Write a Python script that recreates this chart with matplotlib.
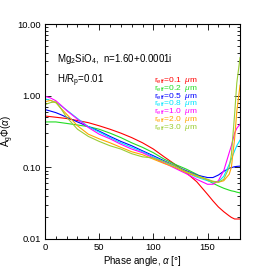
import numpy as np
import matplotlib
matplotlib.use('Agg')
import matplotlib.pyplot as plt
from matplotlib.ticker import MultipleLocator, LogLocator, NullFormatter, FixedLocator

plt.rcParams['font.family'] = ['Liberation Sans', 'DejaVu Sans']
plt.rcParams['mathtext.fontset'] = 'custom'
plt.rcParams['mathtext.rm'] = 'Liberation Sans'
plt.rcParams['mathtext.it'] = 'Liberation Sans:italic'

# phase angles (deg)
alpha = [0, 5, 10, 15, 20, 30, 40, 50, 60, 70, 80, 90, 100, 110, 120, 130,
         140, 150, 155, 160, 165, 170, 172, 175, 177, 180]

r01 = [0.52, 0.51, 0.50, 0.49, 0.48, 0.45, 0.42, 0.38, 0.34, 0.30, 0.26, 0.22, 0.18, 0.14, 0.11, 0.085,
       0.063, 0.042, 0.034, 0.028, 0.024, 0.021, 0.020, 0.019, 0.019, 0.019]
r02 = [0.43, 0.43, 0.43, 0.42, 0.41, 0.39, 0.37, 0.34, 0.30, 0.26, 0.22, 0.19, 0.16, 0.13, 0.11, 0.095,
       0.080, 0.066, 0.060, 0.055, 0.051, 0.048, 0.047, 0.046, 0.045, 0.044]
r05 = [0.64, 0.61, 0.58, 0.54, 0.50, 0.43, 0.37, 0.32, 0.27, 0.23, 0.20, 0.17, 0.145, 0.123, 0.105, 0.090,
       0.078, 0.072, 0.072, 0.078, 0.088, 0.097, 0.099, 0.102, 0.103, 0.104]
r08 = [0.90, 0.86, 0.80, 0.72, 0.63, 0.48, 0.37, 0.31, 0.26, 0.22, 0.19, 0.165, 0.14, 0.12, 0.10, 0.085,
       0.073, 0.065, 0.062, 0.063, 0.075, 0.11, 0.13, 0.17, 0.20, 0.24]
r10 = [0.98, 0.93, 0.85, 0.73, 0.62, 0.47, 0.36, 0.29, 0.25, 0.21, 0.18, 0.16, 0.135, 0.115, 0.097, 0.082,
       0.068, 0.058, 0.058, 0.065, 0.09, 0.16, 0.20, 0.30, 0.35, 0.40]
r20 = [0.82, 0.86, 0.80, 0.66, 0.55, 0.38, 0.29, 0.25, 0.22, 0.19, 0.165, 0.15, 0.13, 0.113, 0.10, 0.085,
       0.075, 0.067, 0.063, 0.062, 0.065, 0.08, 0.10, 0.25, 0.60, 1.40]
r30 = [0.75, 0.80, 0.82, 0.65, 0.50, 0.34, 0.27, 0.23, 0.20, 0.18, 0.155, 0.14, 0.135, 0.12, 0.105, 0.088,
       0.077, 0.068, 0.064, 0.062, 0.068, 0.10, 0.15, 0.55, 1.50, 3.40]

series = [r01, r02, r05, r08, r10, r20, r30]
labels = ['0.1', '0.2', '0.5', '0.8', '1.0', '2.0', '3.0']
colors = ['#ff0000', '#22dd22', '#0000ff', '#00e5ff', '#ff00ff', '#ffa500', '#9acd32']

fig = plt.figure(figsize=(2.67, 2.67), dpi=100)
ax = fig.add_axes([0.1685, 0.105, 0.7305, 0.805])

for y, c in zip(series, colors):
    ax.plot(alpha, y, color=c, lw=0.8)

ax.set_yscale('log')
ax.set_xlim(0, 180)
ax.set_ylim(0.01, 10)
ax.xaxis.set_major_locator(FixedLocator([0, 50, 100, 150]))
ax.xaxis.set_minor_locator(MultipleLocator(10))
ax.yaxis.set_major_locator(FixedLocator([0.01, 0.1, 1, 10]))
ax.set_yticklabels(['0.01', '0.10', '1.00', '10.00'])
ax.yaxis.set_minor_locator(LogLocator(base=10, subs=np.arange(2, 10)))
ax.yaxis.set_minor_formatter(NullFormatter())
ax.tick_params(which='both', direction='in', top=True, right=True, labelsize=6.8, width=0.6, pad=3)
ax.tick_params(which='major', length=4)
ax.tick_params(which='minor', length=2)
for s in ax.spines.values():
    s.set_linewidth(0.8)

ax.set_xlabel(r'Phase angle, $\alpha$ [°]', fontsize=7, labelpad=1)
ax.set_ylabel(r'A$_\mathrm{g}\Phi(\alpha)$', fontsize=7, labelpad=1)

ax.text(0.06, 0.838, r'Mg$_\mathrm{2}$SiO$_\mathrm{4}$,  n=1.60+0.0001i', transform=ax.transAxes,
        fontsize=7, va='center')
ax.text(0.06, 0.736, r'H/R$_\mathrm{p}$=0.01', transform=ax.transAxes, fontsize=7, va='center')

for i, (lab, c) in enumerate(zip(labels, colors)):
    ax.text(0.56, 0.736 - i * 0.036, r'r$_\mathrm{eff}$=' + lab + r'  $\mu$m', color=c,
            transform=ax.transAxes, fontsize=6.0, va='center')

fig.savefig('out.png', dpi=100)
